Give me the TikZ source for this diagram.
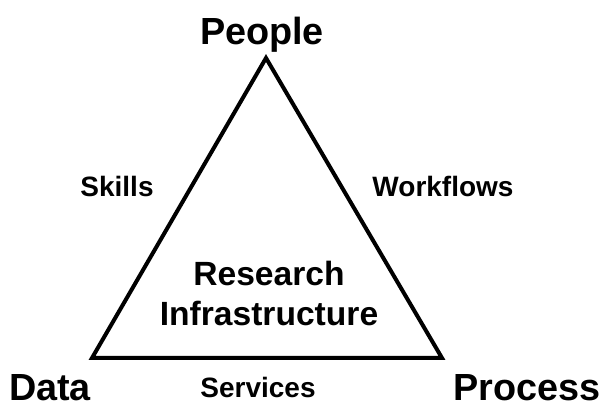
\documentclass[tikz,border=0pt]{standalone}
\usepackage{fontspec}
\setmainfont{Liberation Sans}
\usetikzlibrary{positioning}

\begin{document}
\begin{tikzpicture}[x=0.5pt, y=-0.5pt, every node/.style={align=center, inner sep=0pt},
    corner/.style={font=\fontsize{18.9}{20}\selectfont\bfseries, anchor=base},
    edgelbl/.style={font=\fontsize{14}{16}\selectfont\bfseries, anchor=base},
    centre/.style={font=\fontsize{16.8}{20}\selectfont\bfseries}]
    \useasboundingbox (0,0) rectangle (602,401);

    % corners of the triangle
    \coordinate (top) at (266,58);
    \coordinate (left) at (92,358);
    \coordinate (right) at (442,358);
    \draw[line width=2pt, line join=miter] (top) -- (right) -- (left) -- cycle;

    \node[corner] (people) at (262,45) {People};
    \node[corner] (data) at (50,401) {Data};
    \node[corner] (process) at (527,401) {Process};

    \node[edgelbl] (skills) at (117,197) {Skills};
    \node[edgelbl] (workflows) at (443,197) {Workflows};
    \node[edgelbl] (services) at (258,398) {Services};

    \node[centre] (infra) at (269,293) {Research\\Infrastructure};
\end{tikzpicture}
\end{document}
